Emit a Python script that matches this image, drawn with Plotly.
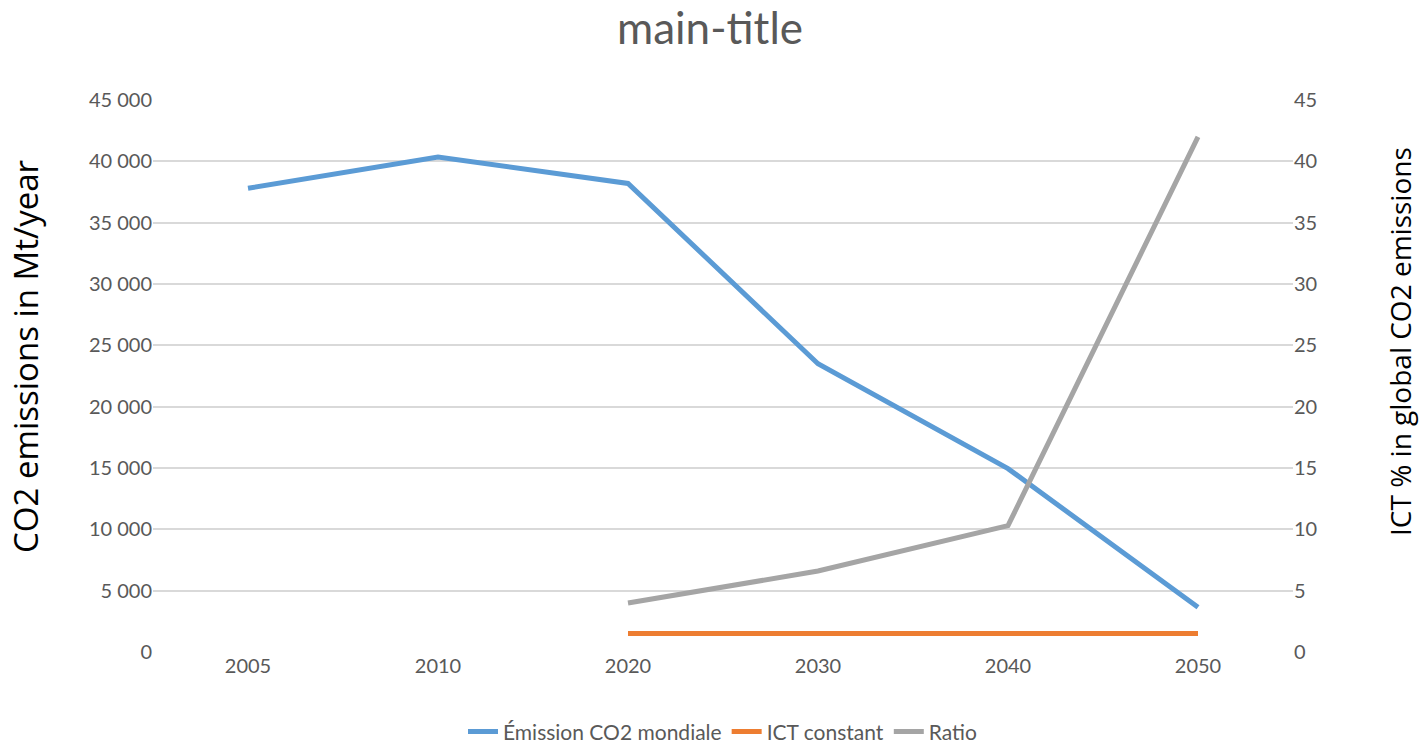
import plotly.graph_objects as go

years = ["2005", "2010", "2020", "2030", "2040", "2050"]
emission_mondiale = [37800, 40350, 38200, 23500, 14950, 3650]
ict_years = ["2020", "2030", "2040", "2050"]
ict_constant = [1500, 1500, 1500, 1500]
ratio = [4.0, 6.6, 10.3, 42.0]

fig = go.Figure()
fig.add_trace(go.Scatter(x=years, y=emission_mondiale, mode="lines", name="Émission CO2 mondiale",
                         line=dict(color="#5b9bd5", width=5), yaxis="y"))
fig.add_trace(go.Scatter(x=ict_years, y=ict_constant, mode="lines", name="ICT constant",
                         line=dict(color="#ed7d31", width=5), yaxis="y"))
fig.add_trace(go.Scatter(x=ict_years, y=ratio, mode="lines", name="Ratio",
                         line=dict(color="#a5a5a5", width=5), yaxis="y2"))

tick_font = dict(family="Lato, sans-serif", size=20, color="#595959")
fig.update_layout(
    width=1420, height=743,
    paper_bgcolor="white", plot_bgcolor="white",
    separators=". ",
    margin=dict(l=153, r=127, t=100, b=91, autoexpand=False),
    title=dict(text="main-title", x=0.5, xanchor="center", y=0.962, yanchor="middle",
               font=dict(family="Lato, sans-serif", size=44, color="#595959")),
    xaxis=dict(type="category", categoryorder="array", categoryarray=years,
               range=[-0.5, 5.5], showgrid=False, showline=False, ticks="",
               tickfont=tick_font, zeroline=False, automargin=False),
    yaxis=dict(range=[0, 45000], dtick=5000, tickformat=",d", showgrid=True,
               gridcolor="#d9d9d9", gridwidth=1.5, zeroline=False, showline=False,
               tickfont=tick_font, ticks="", automargin=False),
    yaxis2=dict(range=[0, 45], dtick=5, overlaying="y", side="right", showgrid=False,
                zeroline=False, showline=False, tickfont=tick_font, automargin=False),
    legend=dict(orientation="h", x=0.5, xanchor="center", yref="container", y=0.015,
                yanchor="middle",
                font=dict(family="Lato, sans-serif", size=21, color="#595959"),
                traceorder="normal"),
    showlegend=True,
    annotations=[
        dict(text="CO2 emissions in Mt/year", textangle=-90, xref="paper", yref="paper",
             x=(25 - 153) / 1140, y=(652 - 357) / 552, xanchor="center", yanchor="middle",
             showarrow=False, font=dict(family="Open Sans, sans-serif", size=33, color="black")),
        dict(text="ICT % in global CO2 emissions", textangle=-90, xref="paper", yref="paper",
             x=(1400 - 153) / 1140, y=(652 - 342) / 552, xanchor="center", yanchor="middle",
             showarrow=False, font=dict(family="Open Sans, sans-serif", size=28, color="black")),
    ],
)

fig.write_html("out.html")
